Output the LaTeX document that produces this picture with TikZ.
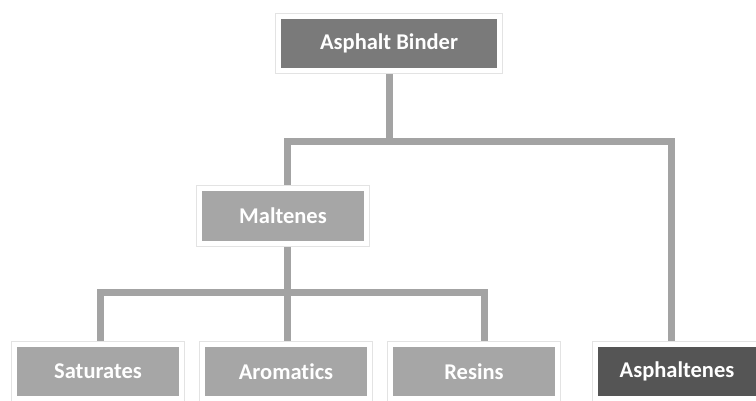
\documentclass[tikz,border=0pt]{standalone}
\usepackage{fontspec}
\setmainfont{Carlito}[Ligatures={NoCommon,NoRare,NoContextual}]
\usetikzlibrary{calc}
\definecolor{cTop}{HTML}{7A7A7A}
\definecolor{cMid}{HTML}{A6A6A6}
\definecolor{cDark}{HTML}{555555}
\definecolor{cLine}{HTML}{A3A3A3}
\pgfdeclarelayer{bg}\pgfdeclarelayer{fr}\pgfsetlayers{bg,fr,main}
\tikzset{
 box/.style={rectangle, minimum height=49pt, inner sep=0pt, text=white,
   font=\fontsize{22.5}{26}\selectfont\bfseries},
 conn/.style={draw=cLine, line width=7pt, line join=miter},
 frame/.style={fill=white, draw=black!11, line width=0.8pt}
}
\begin{document}
\begin{tikzpicture}[x=1pt,y=-1pt]
\useasboundingbox (0,0) rectangle (756,400);
\clip (0,0) rectangle (756,400);
% boxes
\node[box, fill=cTop, minimum width=216pt] (ab) at (389,43.5) {Asphalt Binder};
\node[box, fill=cMid, minimum width=162pt, minimum height=50pt] (mal) at (283,216) {Maltenes};
\node[box, fill=cMid, minimum width=162pt] (sat) at (98,371.5) {Saturates};
\node[box, fill=cMid, minimum width=162pt] (aro) at (286,371.5) {Aromatics};
\node[box, fill=cMid, minimum width=162pt] (res) at (474,371.5) {Resins};
\node[box, fill=cDark, minimum width=158pt] (asp) at (677,371.5) {Asphaltenes};
% frames
\begin{pgfonlayer}{fr}
\foreach \n in {ab,mal,sat,aro,res,asp}{
  \draw[frame] ($(\n.north west)+(-5,-5)$) rectangle ($(\n.south east)+(5,5)$);
}
\end{pgfonlayer}
% connectors
\coordinate (t1) at (389,141);
\coordinate (t1L) at (287,141);
\coordinate (t1R) at (671,141);
\coordinate (t2) at (287,292);
\coordinate (t2L) at (100,292);
\coordinate (t2R) at (484,292);
\begin{pgfonlayer}{bg}
\draw[conn] (ab.south) -- (t1);
\draw[conn] (t1L |- mal.north) -- (t1L) -- (t1R) -- (t1R |- asp.north);
\draw[conn] (t2 |- mal.south) -- (t2);
\draw[conn] (t2L |- sat.north) -- (t2L) -- (t2R) -- (t2R |- res.north);
\draw[conn] (t2) -- (t2 |- aro.north);
\end{pgfonlayer}
\end{tikzpicture}
\end{document}
